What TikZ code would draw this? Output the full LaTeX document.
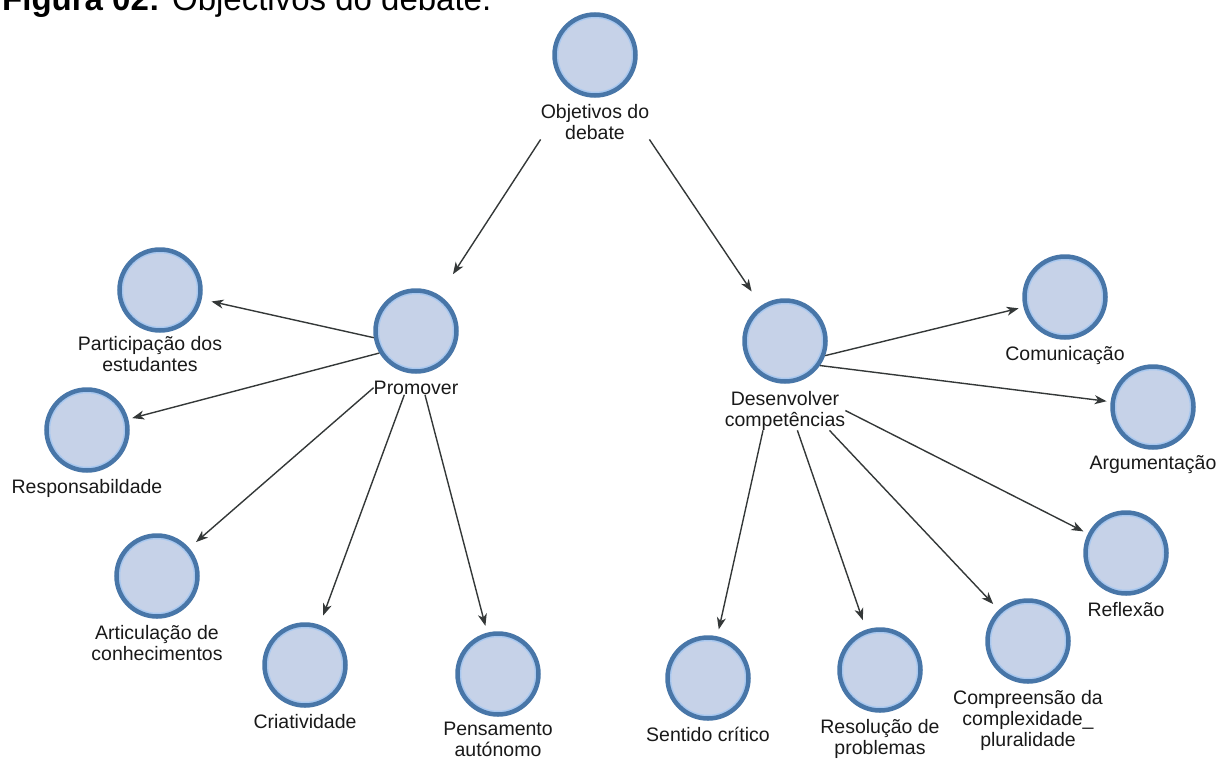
\documentclass[tikz,border=0pt]{standalone}
\usepackage{fontspec}
\setmainfont{Liberation Sans}
\usetikzlibrary{positioning,arrows.meta}

\definecolor{ringblue}{RGB}{72,118,168}
\definecolor{rimblue}{RGB}{168,200,240}
\definecolor{discfill}{RGB}{198,210,232}
\definecolor{linkgray}{RGB}{52,56,56}

\tikzset{
  topic/.style={circle, draw=ringblue, line width=4.5pt, fill=discfill,
    minimum size=81pt, inner sep=0pt,
    path picture={\draw[rimblue, line width=1.5pt] (path picture bounding box.center) circle (37.5pt);}},
  caption/.style={font=\fontsize{19.5}{21}\selectfont, align=center, inner sep=0pt, text=black!90},
  link/.style={draw=linkgray, line width=1.4pt, -{Stealth[length=12pt,width=9pt,inset=3.5pt]}},
}

\begin{document}
\begin{tikzpicture}[x=1pt,y=-1pt]
    \useasboundingbox (0,0) rectangle (1231,758);
    \clip (0,0) rectangle (1231,758);
    \node[anchor=base west, inner sep=0pt, font=\fontsize{33}{36}\selectfont] (title) at (2,10)
      {\textbf{Figura 02:} Objectivos do debate.};

    % centre
    \node[topic] (obj) at (595,55) {};
    \node[caption, below=6pt of obj] (obj-l) {Objetivos do\\debate};

    % promover side
    \node[topic] (prom) at (416,331) {};
    \node[caption, below=7pt of prom] (prom-l) {Promover};
    \node[topic] (part) at (160,290) {};
    \node[caption, below=3pt of part, xshift=-10pt] (part-l) {Participação dos\\estudantes};
    \node[topic] (resp) at (87,430) {};
    \node[caption, below=6pt of resp] (resp-l) {Responsabildade};
    \node[topic] (artic) at (157,576) {};
    \node[caption, below=6pt of artic] (artic-l) {Articulação de\\conhecimentos};
    \node[topic] (criat) at (305,665) {};
    \node[caption, below=6pt of criat] (criat-l) {Criatividade};
    \node[topic] (pens) at (498,674) {};
    \node[caption, below=5pt of pens] (pens-l) {Pensamento\\autónomo};

    % desenvolver side
    \node[topic] (desen) at (785,341) {};
    \node[caption, below=7pt of desen] (desen-l) {Desenvolver\\competências};
    \node[topic] (comun) at (1065,297) {};
    \node[caption, below=6pt of comun] (comun-l) {Comunicação};
    \node[topic] (argum) at (1153,407) {};
    \node[caption, below=6pt of argum] (argum-l) {Argumentação};
    \node[topic] (refl) at (1126,553) {};
    \node[caption, below=6pt of refl] (refl-l) {Reflexão};
    \node[topic] (sent) at (708,678) {};
    \node[caption, below=6pt of sent] (sent-l) {Sentido crítico};
    \node[topic] (resol) at (880,670) {};
    \node[caption, below=6pt of resol] (resol-l) {Resolução de\\problemas};
    \node[topic] (compr) at (1028,641) {};
    \node[caption, below=6pt of compr] (compr-l) {Compreensão da\\complexidade\_\\pluralidade};

    % links
    \draw[link, shorten >=25pt] (obj-l.south west) -- (prom);
    \draw[link, shorten >=17pt] (obj-l.south east) -- (desen);

    \draw[link, shorten >=10pt] (prom.189) -- (part);
    \draw[link, shorten >=4pt] (prom.211) -- (resp);
    \draw[link, shorten >=9pt] (prom-l.west) -- (artic);
    \draw[link, shorten >=10pt] (prom-l.211) -- (criat);
    \draw[link, shorten >=7pt] (prom-l.322) -- (pens);

    \draw[link, shorten >=5pt] (desen.340) -- (comun);
    \draw[link, shorten >=4pt] (desen.325) -- (argum);
    \draw[link, shorten >=5pt] (desen-l.east) -- (refl);
    \draw[link, shorten >=7pt] (desen-l.222) -- (sent);
    \draw[link, shorten >=10pt] (desen-l.302) -- (resol);
    \draw[link, shorten >=8pt] (desen-l.336) -- (compr);
\end{tikzpicture}
\end{document}
